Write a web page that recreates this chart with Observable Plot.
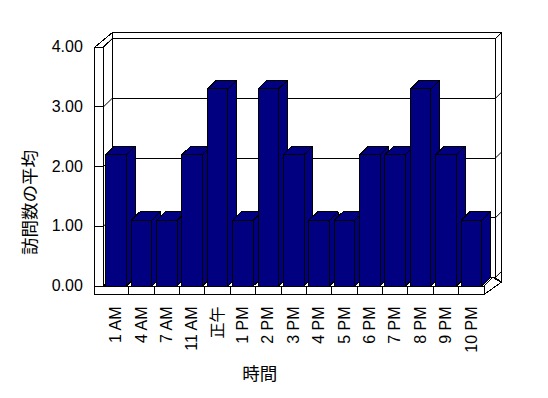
<!DOCTYPE html>
<html>
<head>
<meta charset="utf-8">
<script src="https://cdn.jsdelivr.net/npm/d3@7"></script>
<script src="https://cdn.jsdelivr.net/npm/@observablehq/plot@0.6"></script>
<style>
  html, body { margin: 0; padding: 0; background: #fff; }
  #chart { width: 548px; height: 398px; }
</style>
</head>
<body>
<div id="chart"></div>
<script>
// ---- data ----
const categories = ["1 AM", "4 AM", "7 AM", "11 AM", "正午", "1 PM", "2 PM", "3 PM", "4 PM", "5 PM", "6 PM", "7 PM", "8 PM", "9 PM", "10 PM"];
const values = [2.2, 1.1, 1.1, 2.2, 3.3, 1.1, 3.3, 2.2, 1.1, 1.1, 2.2, 2.2, 3.3, 2.2, 1.1];
const yTicks = [0, 1, 2, 3, 4];
const xTitle = "時間";
const yTitle = "訪問数の平均";

// ---- 3D look (style constants, in scale units) ----
const N = categories.length;
const YM = yTicks[yTicks.length - 1];
const DX = 0.343;   // depth shift along x (category units)
const DY = 0.142;   // depth shift along y (value units)
const PAD = 0.095;  // bar inset inside its band
const R = N + DX + 0.1;   // back wall right inner edge
const TR = 0.24;          // right slab thickness
const TB = 0.1;           // top slab thickness
const RB = 0.064;         // bottom of right slab

function poly(id, pts) { return pts.map(([x, y]) => ({id, x, y})); }

const walls = [
  ...poly("back", [[DX, DY], [R, DY], [R, YM + DY], [DX, YM + DY]]),
  ...poly("backTop", [[DX, YM + DY], [R, YM + DY], [R + TR, YM + DY + TB], [DX, YM + DY + TB]]),
  ...poly("backRight", [[R, DY], [R, YM + DY], [R + TR, YM + DY + TB], [R + TR, RB]]),
  ...poly("leftTop", [[-DX, YM], [0, YM], [DX, YM + DY], [DX, YM + DY + TB]]),
  ...poly("leftFront", [[-DX, -DY], [N, -DY], [N, 0], [0, 0], [0, YM], [-DX, YM]]),
  ...poly("floorTop", [[0, 0], [N, 0], [N + DX, DY], [DX, DY]]),
  ...poly("floorRight", [[N, 0], [N, -DY], [R + TR, RB], [N + DX, DY]])
];

const bars = [];
values.forEach((v, i) => {
  const x0 = i + PAD, x1 = i + 1 - PAD;
  bars.push(...poly("s" + i, [[x1, 0], [x1 + DX, DY], [x1 + DX, v + DY], [x1, v]]));
  bars.push(...poly("t" + i, [[x0, v], [x1, v], [x1 + DX, v + DY], [x0 + DX, v + DY]]));
  bars.push(...poly("f" + i, [[x0, 0], [x1, 0], [x1, v], [x0, v]]));
});

const crisp = {shapeRendering: "crispEdges"};

const chart = Plot.plot({
  width: 548,
  height: 398,
  marginLeft: 102.9,
  marginRight: 64.4,
  marginTop: 46.7,
  marginBottom: 112.5,
  style: {fontFamily: "'Liberation Sans', 'Noto Sans CJK JP', sans-serif", fontSize: "16px", background: "#fff", color: "#000"},
  x: {type: "linear", domain: [0, N], axis: null},
  y: {type: "linear", domain: [0, YM], axis: null},
  marks: [
    Plot.line(walls, {x: "x", y: "y", z: "id", curve: "linear-closed", fill: "#fff", stroke: "#000", strokeWidth: 1, ...crisp}),
    Plot.ruleY(yTicks, {y: v => v + DY, x1: DX, x2: R, stroke: "#000", ...crisp}),
    Plot.link(yTicks, {x1: 0, y1: v => v, x2: DX, y2: v => v + DY, stroke: "#000"}),
    Plot.link(yTicks, {x1: -DX, y1: v => v, x2: 0, y2: v => v, stroke: "#000", ...crisp}),
    Plot.link(yTicks, {x1: R, y1: v => v + DY, x2: R + TR, y2: v => v + DY + TB, stroke: "#000"}),
    Plot.ruleX(d3.range(1, N), {x: d => d, y1: -DY, y2: 0, stroke: "#000", ...crisp}),
    Plot.line(bars, {x: "x", y: "y", z: "id", curve: "linear-closed", fill: "#000080", stroke: "#000", strokeWidth: 1, ...crisp}),
    Plot.axisY(yTicks, {anchor: "left", tickSize: 0, tickPadding: 20.6, tickFormat: d3.format(".2f"), label: null, fontSize: 16, fill: "#000"}),
    Plot.axisX(categories.map((d, i) => i + 0.5), {anchor: "bottom", tickSize: 0, tickPadding: 20.5, tickRotate: -90, tickFormat: d => categories[Math.floor(d)], label: null, fontSize: 16, fill: "#000"}),
    Plot.text([xTitle], {frameAnchor: "bottom", text: d => d, textAnchor: "middle", lineAnchor: "middle", dx: -34, dy: 88.5, fontSize: 17.5, fill: "#000"}),
    Plot.text([yTitle], {frameAnchor: "left", text: d => d, rotate: -90, textAnchor: "middle", lineAnchor: "middle", dx: -72.9, dy: 36, fontSize: 17.5, fill: "#000"})
  ]
});
document.getElementById("chart").appendChild(chart);
</script>
</body>
</html>
